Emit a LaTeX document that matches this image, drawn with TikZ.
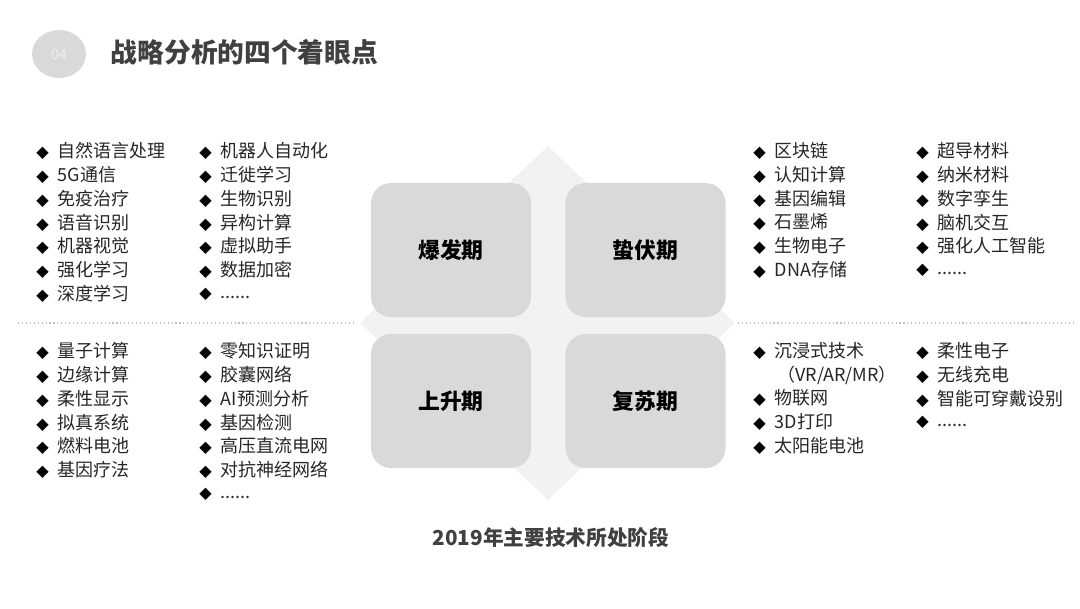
\documentclass[tikz,border=0pt]{standalone}
\usepackage{fontspec}
\setmainfont{Noto Sans CJK SC}
\newfontfamily\symfont{DejaVu Sans}
\usepackage{tikz}
\usepackage{xcolor}

\definecolor{boxgray}{HTML}{D9D9D9}
\definecolor{diagray}{HTML}{F2F2F2}
\definecolor{titlegray}{HTML}{404040}
\definecolor{itemgray}{HTML}{262626}

\newcommand{\bul}{{\symfont\fontsize{11.5}{13}\selectfont\color{black}◆}\hspace{6.5pt}}
\newcommand{\etc}{......}

\begin{document}
\begin{tikzpicture}[
    x=0.025cm, y=-0.025cm,
    phase/.style={rectangle, rounded corners=0.5cm, fill=boxgray, minimum width=4cm, minimum height=3.35cm, font=\fontsize{15.5}{18}\selectfont\bfseries, text=black},
    item/.style={anchor=west, inner sep=0, font=\fontsize{12.8}{15}\selectfont, text=itemgray},
    sep/.style={gray!50, dotted, line width=0.8pt}
]
    \useasboundingbox (0,0) rectangle (1080,608);

    % Title
    \fill[boxgray] (59,54) ellipse (27 and 24);
    \node[text=white!88!gray, font=\fontsize{10}{12}\selectfont] (num) at (59,54) {04};
    \node[anchor=west, text=titlegray, font=\fontsize{19}{22}\selectfont\bfseries] (title) at (106,52) {战略分析的四个着眼点};

    % Background diamond and separators
    \fill[diagray] (548,146) -- (735,323) -- (548,500) -- (360,323) -- cycle;
    \draw[sep] (18,323) -- (353,323);
    \draw[sep] (738,323) -- (1073,323);

    % The four phases
    \node[phase] (burst) at (451,250) {爆发期};
    \node[phase] (latent) at (645.5,250) {蛰伏期};
    \node[phase] (rise) at (451,401) {上升期};
    \node[phase] (revive) at (645.5,401) {复苏期};

    % Top left items
    \foreach \t [count=\i] in {自然语言处理,5G通信,免疫治疗,语音识别,机器视觉,强化学习,深度学习}
        \node[item] (ba\i) at (36,151+23.8*\i-23.8) {\bul\t};
    \foreach \t [count=\i] in {机器人自动化,迁徙学习,生物识别,异构计算,虚拟助手,数据加密,\etc}
        \node[item] (bb\i) at (199,151+23.8*\i-23.8) {\bul\t};

    % Bottom left items
    \foreach \t [count=\i] in {量子计算,边缘计算,柔性显示,拟真系统,燃料电池,基因疗法}
        \node[item] (ra\i) at (36,351+23.8*\i-23.8) {\bul\t};
    \foreach \t [count=\i] in {零知识证明,胶囊网络,AI预测分析,基因检测,高压直流电网,对抗神经网络,\etc}
        \node[item] (rb\i) at (199,351+23.8*\i-23.8) {\bul\t};

    % Top right items
    \foreach \t [count=\i] in {区块链,认知计算,基因编辑,石墨烯,生物电子,DNA存储}
        \node[item] (la\i) at (753,151+23.8*\i-23.8) {\bul\t};
    \foreach \t [count=\i] in {超导材料,纳米材料,数字孪生,脑机交互,强化人工智能,\etc}
        \node[item] (lb\i) at (916,151+23.8*\i-23.8) {\bul\t};

    % Bottom right items
    \node[item] (va1) at (753,351) {\bul 沉浸式技术};
    \node[item] (va2) at (777,375) {（VR/AR/MR）};
    \foreach \t [count=\i from 3] in {物联网,3D打印,太阳能电池}
        \node[item] (va\i) at (753,350.6+23.8*\i-23.8) {\bul\t};
    \foreach \t [count=\i] in {柔性电子,无线充电,智能可穿戴设别,\etc}
        \node[item] (vb\i) at (916,351+23.8*\i-23.8) {\bul\t};

    % Caption
    \node[text=titlegray, font=\fontsize{14.7}{17}\selectfont\bfseries] (caption) at (551,538) {2019年主要技术所处阶段};
\end{tikzpicture}
\end{document}
